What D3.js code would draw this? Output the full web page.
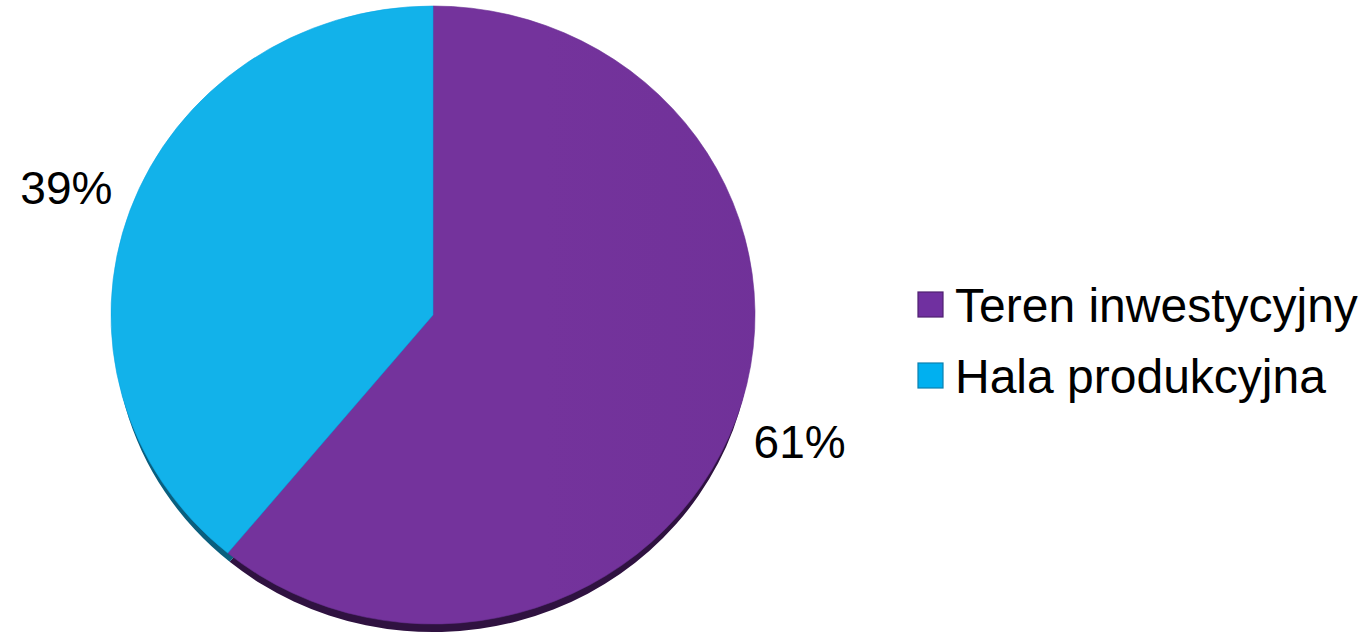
<!DOCTYPE html>
<html>
<head>
<meta charset="utf-8">
<script src="https://cdn.jsdelivr.net/npm/d3@7"></script>
<style>
  body { margin: 0; background: #fff; }
  svg { display: block; font-family: "Liberation Sans", Arial, sans-serif; }
</style>
</head>
<body>
<svg id="chart"></svg>
<script>
var categories = ['Teren inwestycyjny', 'Hala produkcyjna'];
var values = [61, 39];
var labels = ['61%', '39%'];

var width = 1369, height = 639;
var cx = 433, cy = 315, rx = 322, ry = 309, depth = 11;

var faceColors = [['#74339c', '#692e92'], ['#12b2ea', '#0aa6e4']];
var sideColors = ['#2f1240', '#0a5f7e'];
var legendColors = [['#7030a0', '#4f2070'], ['#00b0f0', '#0a80b0']];

var svg = d3.select('#chart')
    .attr('width', width)
    .attr('height', height);

var defs = svg.append('defs');
faceColors.forEach(function(c, i) {
    var g = defs.append('linearGradient')
        .attr('id', 'grad' + i)
        .attr('gradientUnits', 'userSpaceOnUse')
        .attr('x1', cx - rx).attr('y1', 0)
        .attr('x2', cx + rx).attr('y2', 0);
    g.append('stop').attr('offset', '0%').attr('stop-color', c[0]);
    g.append('stop').attr('offset', '100%').attr('stop-color', c[1]);
});

var pie = d3.pie().sort(null).value(function(d) { return d; });
var arcs = pie(values);
var arc = d3.arc().innerRadius(0).outerRadius(rx);
var sideArc = d3.arc().innerRadius(0).outerRadius(rx - 3);

// depth (bottom edge)
svg.append('g')
    .attr('transform', 'translate(' + cx + ',' + (cy + depth) + ') scale(1,' + (ry / rx) + ')')
    .selectAll('path')
    .data(arcs)
    .enter()
    .append('path')
    .attr('d', sideArc)
    .attr('fill', function(d, i) { return sideColors[i]; });

// face
svg.append('g')
    .attr('transform', 'translate(' + cx + ',' + cy + ') scale(1,' + (ry / rx) + ')')
    .selectAll('path')
    .data(arcs)
    .enter()
    .append('path')
    .attr('d', arc)
    .attr('fill', function(d, i) { return 'url(#grad' + i + ')'; })
    .attr('stroke', function(d, i) { return faceColors[i][1]; })
    .attr('stroke-width', 0.6);

// percent labels
svg.append('g')
    .selectAll('text')
    .data(arcs)
    .enter()
    .append('text')
    .attr('x', function(d) {
        var a = (d.startAngle + d.endAngle) / 2;
        return cx + Math.sin(a) * rx * 1.21;
    })
    .attr('y', function(d) {
        var a = (d.startAngle + d.endAngle) / 2;
        return cy - Math.cos(a) * ry * 1.21;
    })
    .attr('text-anchor', 'middle')
    .attr('dominant-baseline', 'central')
    .attr('font-size', 46)
    .attr('fill', '#000')
    .text(function(d, i) { return labels[i]; });

// legend
var legend = svg.append('g')
    .selectAll('g')
    .data(categories)
    .enter()
    .append('g')
    .attr('transform', function(d, i) { return 'translate(918,' + (292 + i * 71) + ')'; });

legend.append('rect')
    .attr('width', 25)
    .attr('height', 25)
    .attr('fill', function(d, i) { return legendColors[i][0]; })
    .attr('stroke', function(d, i) { return legendColors[i][1]; })
    .attr('stroke-width', 1.2);

legend.append('text')
    .attr('x', 37)
    .attr('y', 30)
    .attr('font-size', 48)
    .attr('fill', '#000')
    .text(function(d) { return d; });
</script>
</body>
</html>
